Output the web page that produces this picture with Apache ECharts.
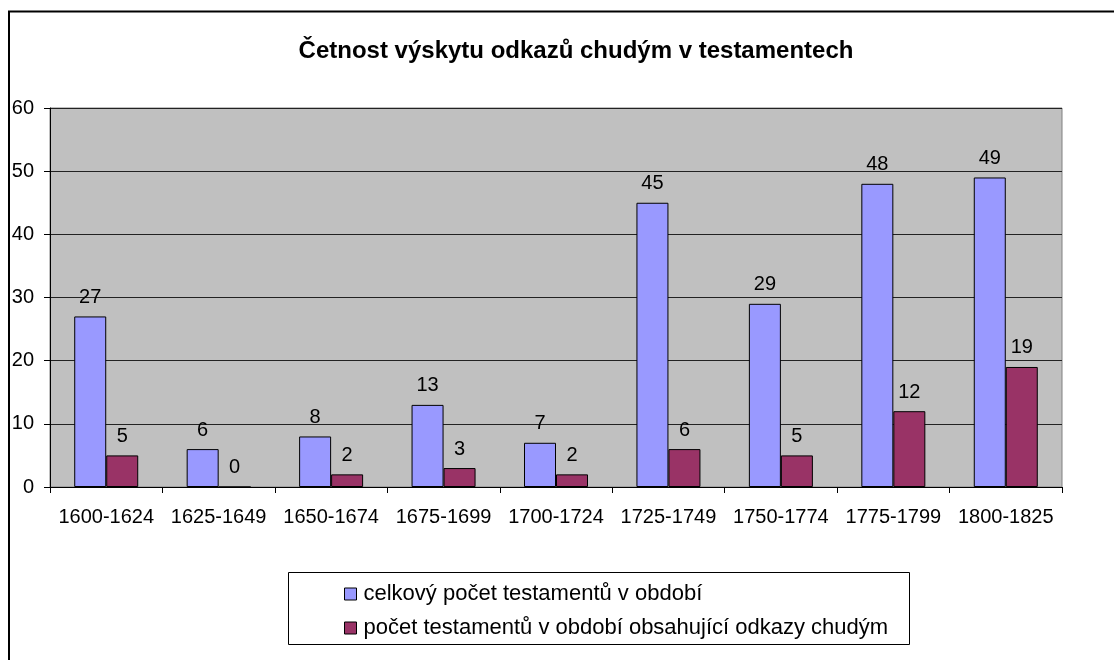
<!DOCTYPE html>
<html>
<head>
<meta charset="utf-8">
<script src="https://cdn.jsdelivr.net/npm/echarts@6/dist/echarts.min.js"></script>
<style>
  html, body { margin: 0; padding: 0; background: #fff; }
  #chart { width: 1114px; height: 660px; }
</style>
</head>
<body>
<div id="chart"></div>
<script>
const categories = ['1600-1624', '1625-1649', '1650-1674', '1675-1699', '1700-1724', '1725-1749', '1750-1774', '1775-1799', '1800-1825'];
const totalWills = [27, 6, 8, 13, 7, 45, 29, 48, 49];
const poorWills = [5, 0, 2, 3, 2, 6, 5, 12, 19];
const seriesNames = ['celkový počet testamentů v období', 'počet testamentů v období obsahující odkazy chudým'];

const FONT = 'Liberation Sans, Arial, sans-serif';
const chart = echarts.init(document.getElementById('chart'), null, { renderer: 'canvas' });

const labelStyle = {
  show: true,
  position: 'top',
  distance: 9,
  color: '#000',
  fontFamily: FONT,
  fontSize: 20
};

const option = {
  animation: false,
  backgroundColor: '#fff',
  title: {
    text: 'Četnost výskytu odkazů chudým v testamentech',
    left: 571,
    textAlign: 'center',
    top: 34,
    textStyle: { fontFamily: FONT, fontSize: 24, fontWeight: 'bold', color: '#000' }
  },
  grid: { left: 50, top: 108, width: 1012, height: 379, containLabel: false, backgroundColor: '#C0C0C0', show: true, borderColor: '#808080', borderWidth: 1 },
  legend: {
    orient: 'vertical',
    left: 339,
    top: 578,
    itemGap: 12,
    itemWidth: 12,
    itemHeight: 12,
    icon: 'rect',
    textStyle: { fontFamily: FONT, fontSize: 22, color: '#000', padding: [0, 0, 0, 2] },
    data: seriesNames.map(n => ({ name: n, itemStyle: { borderColor: '#000', borderWidth: 1 } }))
  },
  graphic: [
    { type: 'rect', left: 286, top: 570, shape: { width: 621, height: 72 }, style: { fill: 'none', stroke: '#000', lineWidth: 1 }, z: -1 },
    { type: 'polyline', shape: { points: [[9, 660], [9, 11.5], [1114, 11.5]] }, style: { fill: 'none', stroke: '#000', lineWidth: 2 } }
  ],
  xAxis: {
    type: 'category',
    data: categories,
    axisLine: { lineStyle: { color: '#000', width: 1 } },
    axisTick: { show: true, alignWithLabel: false, interval: 0, length: 6, lineStyle: { color: '#000' } },
    axisLabel: { interval: 0, hideOverlap: false, fontFamily: FONT, fontSize: 20, color: '#000', margin: 20 }
  },
  yAxis: {
    type: 'value',
    min: 0,
    max: 60,
    interval: 10,
    axisLine: { show: true, lineStyle: { color: '#000', width: 1 } },
    axisTick: { show: true, length: 6, lineStyle: { color: '#000' } },
    axisLabel: { fontFamily: FONT, fontSize: 20, color: '#000', margin: 16 },
    splitLine: { lineStyle: { color: '#222', width: 1 } }
  },
  series: [
    {
      name: seriesNames[0],
      type: 'bar',
      data: totalWills,
      barWidth: 32,
      barGap: '0%',
      itemStyle: { color: '#9999FF', borderColor: '#000', borderWidth: 1 },
      label: labelStyle
    },
    {
      name: seriesNames[1],
      type: 'bar',
      data: poorWills,
      barWidth: 32,
      barGap: '0%',
      itemStyle: { color: '#993366', borderColor: '#000', borderWidth: 1 },
      label: labelStyle
    }
  ]
};

chart.setOption(option);
</script>
</body>
</html>
